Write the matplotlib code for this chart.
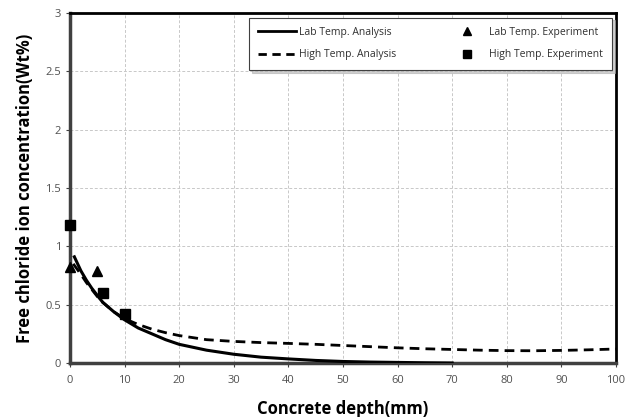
import numpy as np
import matplotlib.pyplot as plt
from matplotlib.lines import Line2D
from matplotlib.ticker import FuncFormatter

plt.rcParams['font.family'] = ['Open Sans', 'DejaVu Sans']

# Analysis curves (depth in mm, free chloride in wt%)
lab_depth = [0.8, 2, 3, 4, 5, 6, 8, 10, 12.5, 15, 17.5, 20, 25, 30, 35, 40, 45, 50, 55, 60, 65, 70]
lab_cl = [0.91, 0.79, 0.71, 0.64, 0.58, 0.52, 0.44, 0.37, 0.30, 0.25, 0.20, 0.16, 0.11, 0.075, 0.05, 0.035, 0.022, 0.013, 0.008, 0.005, 0.002, 0.0]

high_depth = [0.6, 2, 3, 4, 5, 6, 8, 10, 12.5, 15, 17.5, 20, 25, 30, 35, 40, 45, 50, 55, 60, 65, 70, 75, 80, 85, 90, 95, 100]
high_cl = [0.85, 0.76, 0.69, 0.63, 0.57, 0.52, 0.44, 0.38, 0.33, 0.29, 0.26, 0.235, 0.2, 0.185, 0.175, 0.168, 0.16, 0.15, 0.14, 0.13, 0.122, 0.116, 0.11, 0.106, 0.105, 0.108, 0.113, 0.12]

# Experimental measurements
lab_exp_depth = [0, 5]
lab_exp_cl = [0.82, 0.79]
high_exp_depth = [0, 6, 10]
high_exp_cl = [1.18, 0.60, 0.42]

fig = plt.figure(figsize=(6.38, 4.17), dpi=100)
ax = fig.add_axes([0.1097, 0.1295, 0.8558, 0.8393])

ax.plot(lab_depth, lab_cl, color='black', lw=2.2, zorder=3)
ax.plot(high_depth, high_cl, color='black', lw=2.0, ls=(0, (3.5, 2.2)), zorder=3)
ax.plot(lab_exp_depth, lab_exp_cl, ls='none', marker='^', ms=7.5, color='black', zorder=4, clip_on=False)
ax.plot(high_exp_depth, high_exp_cl, ls='none', marker='s', ms=7.5, color='black', zorder=4, clip_on=False)

ax.set_xlim(0, 100)
ax.set_ylim(0, 3)
ax.set_xticks(np.arange(0, 101, 10))
ax.set_yticks(np.arange(0, 3.01, 0.5))
ax.yaxis.set_major_formatter(FuncFormatter(lambda v, p: f'{v:g}'))
ax.grid(True, color='#c8c8c8', ls=(0, (3, 2)), lw=0.7)
ax.set_axisbelow(True)
ax.tick_params(axis='both', labelsize=8, colors='#404040', labelcolor='#505050', length=3, width=0.8)
ax.tick_params(axis='x', pad=6)

for side in ['left', 'bottom']:
    ax.spines[side].set_color('#404040')
    ax.spines[side].set_linewidth(2.5)
for side in ['top', 'right']:
    ax.spines[side].set_color('black')
    ax.spines[side].set_linewidth(2.0)

ax.set_xlabel('Concrete depth(mm)', fontsize=12, fontweight='bold', labelpad=10)
ax.set_ylabel('Free chloride ion concentration(Wt%)', fontsize=12, fontweight='bold', labelpad=8)

handles = [
    Line2D([], [], color='black', lw=2.0),
    Line2D([], [], color='black', lw=2.0, ls=(0, (3, 2))),
    Line2D([], [], ls='none', marker='^', ms=6, color='black'),
    Line2D([], [], ls='none', marker='s', ms=6, color='black'),
]
labels = ['Lab Temp. Analysis', 'High Temp. Analysis',
          'Lab Temp. Experiment', 'High Temp. Experiment']
leg = ax.legend(handles, labels, ncol=2, fontsize=7.5, loc='upper left',
                bbox_to_anchor=(0.328, 0.987, 0.665, 0.0), mode='expand',
                frameon=True, fancybox=False,
                shadow={'color': '#b0b0b0', 'alpha': 0.6},
                borderpad=0.9, labelspacing=1.1, handlelength=3.6,
                handletextpad=0.3, columnspacing=2.0, borderaxespad=0)
leg.get_frame().set_edgecolor('#404040')
leg.get_frame().set_linewidth(0.8)
for t in leg.get_texts():
    t.set_color('#303030')

fig.savefig('out.png', dpi=100)
